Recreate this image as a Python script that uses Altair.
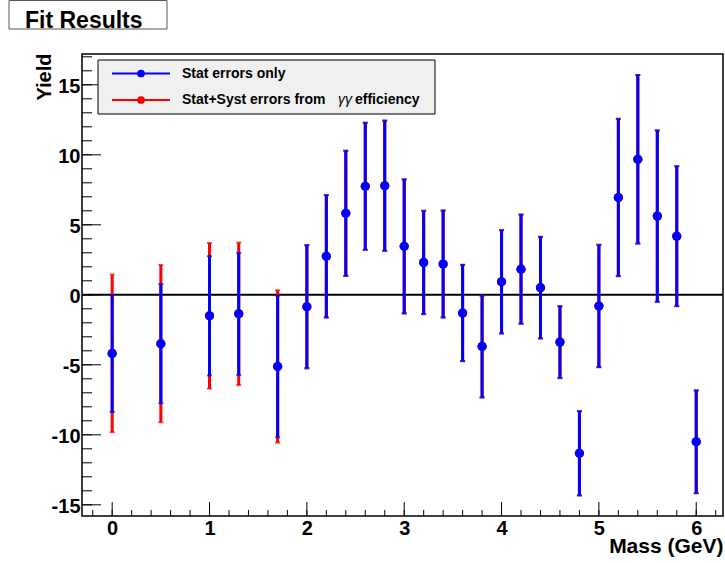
import altair as alt
import pandas as pd
import numpy as np

# Fitted yield per mass point
mass = [0.0, 0.5, 1.0, 1.3, 1.7, 2.0, 2.2, 2.4, 2.6, 2.8, 3.0, 3.2, 3.4,
        3.6, 3.8, 4.0, 4.2, 4.4, 4.6, 4.8, 5.0, 5.2, 5.4, 5.6, 5.8, 6.0]
yields = [-4.19, -3.49, -1.50, -1.36, -5.12, -0.85, 2.75, 5.82, 7.75, 7.79,
          3.46, 2.31, 2.20, -1.30, -3.69, 0.93, 1.83, 0.51, -3.38, -11.32,
          -0.80, 6.95, 9.68, 5.62, 4.19, -10.50]
# Statistical error only
stat_err = [4.18, 4.26, 4.26, 4.36, 5.06, 4.40, 4.37, 4.47, 4.54, 4.65,
            4.79, 3.69, 3.82, 3.44, 3.64, 3.69, 3.90, 3.63, 2.57, 3.01,
            4.37, 5.62, 6.02, 6.12, 5.00, 3.67]
# Statistical + systematic (gamma-gamma efficiency) error
total_err = [5.63, 5.62, 5.20, 5.09, 5.44, 4.40, 4.37, 4.47, 4.54, 4.65,
             4.79, 3.69, 3.82, 3.44, 3.64, 3.69, 3.90, 3.63, 2.57, 3.01,
             4.37, 5.62, 6.02, 6.12, 5.00, 3.67]

series_colors = ["#0000ff", "#ff0000"]

x_labels = [0, 1, 2, 3, 4, 5, 6]
y_labels = [-15, -10, -5, 0, 5, 10, 15]

FONT = "Liberation Sans"
W, H = 641, 462

xscale = alt.Scale(domain=[-0.31, 6.275], nice=False, zero=False)
yscale = alt.Scale(domain=[-15.8, 17.2], nice=False, zero=False)

stat_df = pd.DataFrame({"mass": mass, "y": yields, "err": stat_err})
tot_df = pd.DataFrame({"mass": mass, "y": yields, "err": total_err})

# Invisible layer that carries both axes (labels and titles)
axes_layer = alt.Chart(stat_df).mark_point(opacity=0).encode(
    x=alt.X("mass:Q", scale=xscale, title="Mass (GeV)",
            axis=alt.Axis(values=x_labels, ticks=False, tickSize=0,
                          domain=False, grid=False, labelPadding=2,
                          labelExpr="'' + datum.value",
                          labelFont=FONT, labelFontSize=20,
                          labelFontWeight="bold", labelColor="black",
                          labelBaseline="top",
                          titleFont=FONT, titleFontSize=21,
                          titleFontWeight="bold", titleColor="black",
                          titleX=W, titleY=36, titleAlign="right",
                          titleBaseline="alphabetic")),
    y=alt.Y("y:Q", scale=yscale, title="Yield",
            axis=alt.Axis(values=y_labels, ticks=False, tickSize=0,
                          domain=False, grid=False, labelPadding=2,
                          labelOffset=2,
                          labelExpr="'' + datum.value",
                          labelFont=FONT, labelFontSize=20,
                          labelFontWeight="bold", labelColor="black",
                          titleFont=FONT, titleFontSize=20,
                          titleFontWeight="bold", titleColor="black",
                          titleAngle=270, titleX=-32, titleY=-1,
                          titleAlign="right",
                          titleBaseline="alphabetic")),
)


def err_layers(df, color):
    base = alt.Chart(df).transform_calculate(
        lo="datum.y - datum.err", hi="datum.y + datum.err"
    )
    bars = base.mark_rule(color=color, strokeWidth=3).encode(
        x=alt.X("mass:Q", scale=xscale),
        y=alt.Y("lo:Q", scale=yscale), y2="hi:Q")
    cap_lo = base.mark_tick(color=color, orient="horizontal", size=5,
                            thickness=2).encode(
        x=alt.X("mass:Q", scale=xscale), y=alt.Y("lo:Q", scale=yscale))
    cap_hi = base.mark_tick(color=color, orient="horizontal", size=5,
                            thickness=2).encode(
        x=alt.X("mass:Q", scale=xscale), y=alt.Y("hi:Q", scale=yscale))
    pts = base.mark_circle(color=color, size=85, opacity=1).encode(
        x=alt.X("mass:Q", scale=xscale), y=alt.Y("y:Q", scale=yscale))
    return [bars, cap_lo, cap_hi, pts]


# Zero reference line
zero = alt.Chart(pd.DataFrame({"y": [0]})).mark_rule(
    color="black", strokeWidth=2).encode(y=alt.Y("y:Q", scale=yscale))

# Inward-pointing frame ticks
y_major = pd.DataFrame({"y": y_labels})
y_minor = pd.DataFrame({"y": list(range(-15, 18))})
x_major = pd.DataFrame({"mass": x_labels})
x_minor = pd.DataFrame({"mass": [round(v, 1) for v in np.arange(-0.2, 6.3, 0.2)]})

ytick_major = alt.Chart(y_major).mark_rule(color="black", strokeWidth=1).encode(
    y=alt.Y("y:Q", scale=yscale), x=alt.value(0), x2=alt.value(19))
ytick_minor = alt.Chart(y_minor).mark_rule(color="black", strokeWidth=1).encode(
    y=alt.Y("y:Q", scale=yscale), x=alt.value(0), x2=alt.value(10))
xtick_major = alt.Chart(x_major).mark_rule(color="black", strokeWidth=1).encode(
    x=alt.X("mass:Q", scale=xscale), y=alt.value(H), y2=alt.value(H - 14))
xtick_minor = alt.Chart(x_minor).mark_rule(color="black", strokeWidth=1).encode(
    x=alt.X("mass:Q", scale=xscale), y=alt.value(H), y2=alt.value(H - 6))

one = pd.DataFrame({"a": [0]})

# Title box
title_box = alt.Chart(one).mark_rect(
    fill="white", stroke="#555555", strokeWidth=1).encode(
    x=alt.value(-73), x2=alt.value(85), y=alt.value(-53.5), y2=alt.value(-25))
title_text = alt.Chart(one).mark_text(
    font=FONT, fontSize=23, fontWeight="bold", align="left",
    baseline="alphabetic", color="black").encode(
    x=alt.value(-57), y=alt.value(-26.5), text=alt.value("Fit Results"))


def legend_text(txt, x, y, weight="bold", style="normal"):
    return alt.Chart(one).mark_text(
        font=FONT, fontSize=14, fontWeight=weight, fontStyle=style,
        align="left", baseline="middle", color="black").encode(
        x=alt.value(x), y=alt.value(y), text=alt.value(txt))


# Legend
leg_layers = [alt.Chart(one).mark_rect(
    fill="#f0f0f0", stroke="black", strokeWidth=1).encode(
    x=alt.value(16), x2=alt.value(353), y=alt.value(6), y2=alt.value(60))]
for i, col in enumerate(series_colors):
    ly = 19.5 + 26.5 * i
    leg_layers.append(alt.Chart(one).mark_rule(color=col, strokeWidth=2).encode(
        x=alt.value(30), x2=alt.value(88), y=alt.value(ly)))
    leg_layers.append(alt.Chart(one).mark_circle(
        color=col, size=60, opacity=1).encode(x=alt.value(59), y=alt.value(ly)))
leg_layers.append(legend_text("Stat errors only", 100, 19.5))
leg_layers.append(legend_text("Stat+Syst errors from", 100, 46))
leg_layers.append(legend_text("\u03b3\u03b3", 256, 46, weight="normal", style="italic"))
leg_layers.append(legend_text("efficiency", 273, 46))

red = err_layers(tot_df, series_colors[1])
blue = err_layers(stat_df, series_colors[0])

chart = alt.layer(
    axes_layer, title_box, title_text, zero, *red, *blue,
    ytick_major, ytick_minor, xtick_major, xtick_minor, *leg_layers
).properties(
    width=W, height=H,
    autosize=alt.AutoSizeParams(type="none"),
    padding={"left": 82, "top": 54, "right": 2, "bottom": 47},
    background="white",
).configure_view(stroke="black", strokeWidth=1.5)

chart.save("out.html", embed_options={"renderer": "svg", "actions": False})
